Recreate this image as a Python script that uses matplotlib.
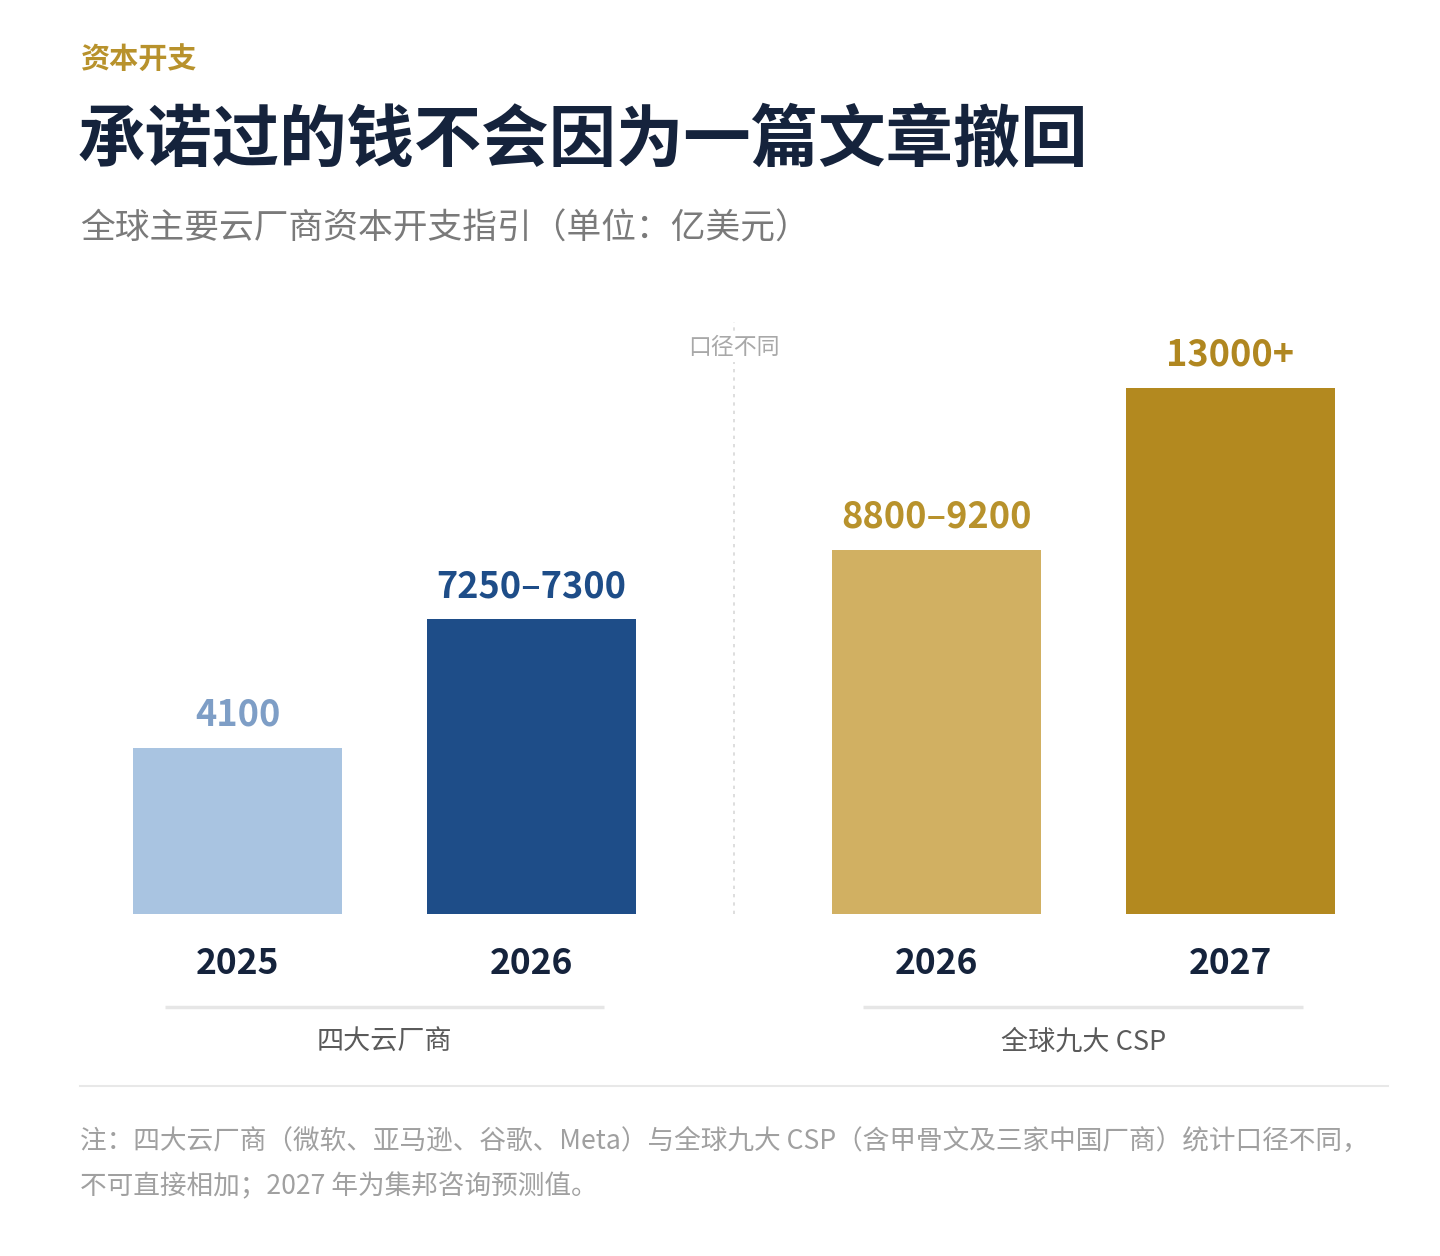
import numpy as np
import matplotlib
matplotlib.use("Agg")
import matplotlib.pyplot as plt
import matplotlib.transforms as mtransforms
from matplotlib.lines import Line2D

plt.rcParams['font.family'] = ['Noto Sans CJK SC', 'DejaVu Sans']

# data
kicker = "资本开支"
title = "承诺过的钱不会因为一篇文章撤回"
subtitle = "全球主要云厂商资本开支指引（单位：亿美元）"
groups = ["四大云厂商", "全球九大 CSP"]
years = ["2025", "2026", "2026", "2027"]
group_of_bar = [0, 0, 1, 1]
values = [4100, 7275, 9000, 13000]
value_labels = ["4100", "7250–7300", "8800–9200", "13000+"]
divider_label = "口径不同"
note_lines = ["注：四大云厂商（微软、亚马逊、谷歌、Meta）与全球九大 CSP（含甲骨文及三家中国厂商）统计口径不同，",
              "不可直接相加；2027 年为集邦咨询预测值。"]

bar_colors = ["#a9c4e1", "#1e4d88", "#d1b062", "#b3891f"]
label_colors = ["#7e9ec6", "#1e4d88", "#b8922c", "#b08720"]
navy = "#15233c"
gold = "#b8922c"

W, H = 1440, 1256
fig = plt.figure(figsize=(W / 100, H / 100), dpi=100)
fig.patch.set_facecolor("white")

def fx(x):
    return x / W

def fy(y):
    return 1 - y / H

# header
fig.text(fx(80), fy(59), kicker, fontsize=21, fontweight="bold", color=gold, va="center", ha="left")
fig.text(fx(78), fy(141), title, fontsize=48.5, fontweight="heavy", color=navy, va="center", ha="left")
fig.text(fx(80), fy(229), subtitle, fontsize=25, color="#7a7a7a", va="center", ha="left")

# bar axes: pixel box 80..1390 x, 322..914 y
ax_l, ax_r, ax_t, ax_b = 80, 1390, 322, 914
ax = fig.add_axes([fx(ax_l), fy(ax_b), fx(ax_r - ax_l), (ax_b - ax_t) / H])
ax.set_facecolor("none")

gap = 1.378  # spacing between groups, in bar-slot units
x = np.array([i + g * (gap - 1) for i, g in enumerate(group_of_bar)], dtype=float)
width = 0.711
ax.bar(x, values, width=width, color=bar_colors, zorder=2)

for xi, v, lab, c in zip(x, values, value_labels, label_colors):
    ax.annotate(lab, (xi, v), xytext=(0, 16), textcoords="offset points",
                ha="center", va="baseline", fontsize=26, fontweight="bold", color=c)

ax.set_xlim(x[0] - 0.536, x[-1] + 0.544)
ax.set_ylim(0, (ax_b - ax_t) / 0.0405)
ax.set_xticks(x)
ax.set_xticklabels(years, fontsize=25.5, fontweight="bold", color=navy)
ax.tick_params(axis="x", length=0, pad=23)
ax.set_yticks([])
for s in ax.spines.values():
    s.set_visible(False)

# dotted divider between groups
trans = mtransforms.blended_transform_factory(ax.transData, ax.transAxes)
x_div = (x[1] + x[2]) / 2
ax.axvline(x_div, color="#d8d8d8", lw=1.2, ls=(0, (2, 3)), zorder=1)
ax.text(x_div, 1 - 26 / (ax_b - ax_t), divider_label, transform=trans,
        ha="center", va="center", fontsize=16.5, color="#a8a8a8",
        bbox=dict(facecolor="white", edgecolor="none", pad=2))

# group underlines and labels
for gi, gname in enumerate(groups):
    xs = x[[i for i, g in enumerate(group_of_bar) if g == gi]]
    cx = xs.mean()
    ax.plot([cx - 0.748, cx + 0.748], [-93 / 592, -93 / 592], transform=trans, clip_on=False,
            color="#e6e6e6", lw=2.5, solid_capstyle="butt")
    ax.text(cx, -128 / 592, gname, transform=trans, ha="center", va="center",
            fontsize=19.5, color="#5a5a5a")

# separator and footnote
fig.add_artist(Line2D([fx(80), fx(1388)], [fy(1086), fy(1086)], color="#e8e8e8", lw=1.5))
for i, line in enumerate(note_lines):
    fig.text(fx(80), fy(1142 + 45 * i), line, fontsize=19.2, color="#a0a0a0", va="center", ha="left")

fig.savefig("out.png", dpi=100, facecolor="white")
